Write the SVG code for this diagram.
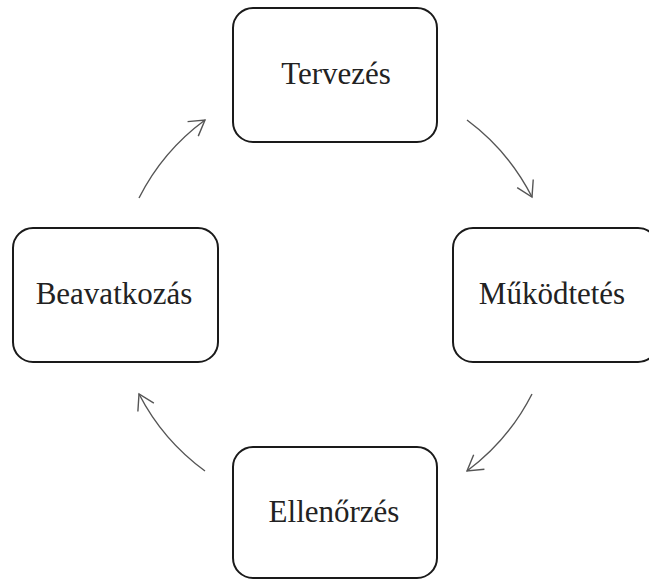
<svg xmlns="http://www.w3.org/2000/svg" width="649" height="581" viewBox="0 0 649 581">
  <style>
    .box { fill: #ffffff; stroke: #1a1a1a; stroke-width: 2; }
    .label { font-family: "Liberation Serif", "Times New Roman", serif; font-size: 31px; fill: #222222; text-anchor: middle; }
    .flow { fill: none; stroke: #555555; stroke-width: 1.4; }
  </style>
  <defs>
    <marker id="open-arrow" markerUnits="userSpaceOnUse" viewBox="-17 -11 19 22" markerWidth="19" markerHeight="22" refX="0" refY="0" orient="auto">
      <path d="M -15 -9 L 0 0 L -15 9" fill="none" stroke="#555555" stroke-width="1.4"/>
    </marker>
  </defs>
  <rect width="649" height="581" fill="#ffffff"/>

  <g id="node-tervezes">
    <rect class="box" x="233" y="8" width="204" height="134" rx="20" ry="20"/>
    <text class="label" x="336" y="84">Tervezés</text>
  </g>
  <g id="node-mukodtetes">
    <rect class="box" x="453" y="228" width="205" height="134" rx="20" ry="20"/>
    <text class="label" x="552" y="304">Működtetés</text>
  </g>
  <g id="node-ellenorzes">
    <rect class="box" x="233" y="447" width="204" height="131" rx="20" ry="20"/>
    <text class="label" x="334" y="522">Ellenőrzés</text>
  </g>
  <g id="node-beavatkozas">
    <rect class="box" x="13" y="228" width="205" height="134" rx="20" ry="20"/>
    <text class="label" x="114" y="304">Beavatkozás</text>
  </g>

  <!-- cycle arrows on a circle around (335,295), r=220 -->
  <g id="connectors">
    <path class="flow" d="M 467 120 A 220 220 0 0 1 532 197" marker-end="url(#open-arrow)"/>
    <path class="flow" d="M 532 394 A 220 220 0 0 1 467 471" marker-end="url(#open-arrow)"/>
    <path class="flow" d="M 205 471 A 220 220 0 0 1 139 394" marker-end="url(#open-arrow)"/>
    <path class="flow" d="M 139 198 A 220 220 0 0 1 205 120" marker-end="url(#open-arrow)"/>
  </g>
</svg>
